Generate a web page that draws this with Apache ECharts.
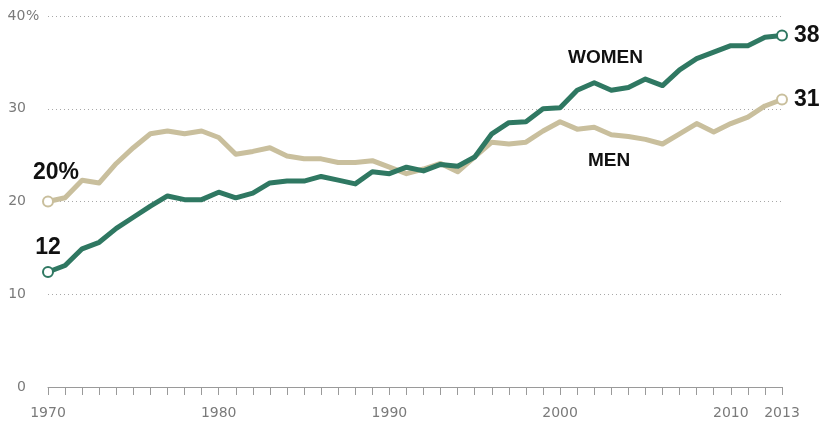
<!DOCTYPE html>
<html>
<head>
<meta charset="utf-8">
<script src="https://cdn.jsdelivr.net/npm/echarts@6/dist/echarts.min.js"></script>
<style>
  html, body { margin: 0; padding: 0; background: #fff; }
  #chart { width: 821px; height: 421px; }
</style>
</head>
<body>
<div id="chart"></div>
<script>
// years 1970..2013
const years = [1970,1971,1972,1973,1974,1975,1976,1977,1978,1979,
  1980,1981,1982,1983,1984,1985,1986,1987,1988,1989,
  1990,1991,1992,1993,1994,1995,1996,1997,1998,1999,
  2000,2001,2002,2003,2004,2005,2006,2007,2008,2009,
  2010,2011,2012,2013]
const women = [12.4,13.1,14.9,15.6,17.1,18.3,19.5,20.6,20.2,20.2,
  21.0,20.4,20.9,22.0,22.2,22.2,22.7,22.3,21.9,23.2,
  23.0,23.7,23.3,24.0,23.8,24.8,27.3,28.5,28.6,30.0,
  30.1,32.0,32.8,32.0,32.3,33.2,32.5,34.2,35.4,36.1,
  36.8,36.8,37.7,37.9]
const men = [20.0,20.4,22.3,22.0,24.1,25.8,27.3,27.6,27.3,27.6,
  26.9,25.1,25.4,25.8,24.9,24.6,24.6,24.2,24.2,24.4,
  23.7,23.0,23.5,24.1,23.2,24.8,26.4,26.2,26.4,27.6,
  28.6,27.8,28.0,27.2,27.0,26.7,26.2,27.3,28.4,27.5,
  28.4,29.1,30.3,31.0]
const yearLabels = [1970, 1980, 1990, 2000, 2010, 2013]
const yTicks = [0, 10, 20, 30, 40]

const green = '#2f7862'
const tan = '#c9bf9d'
const last = years.length - 1

function buildData (vals, firstText, firstOffset) {
  return vals.map(function (v, i) {
    let item = { value: [years[i], v] }
    if (i === 0) {
      item.label = { show: true, position: 'top', offset: firstOffset, formatter: firstText }
    } else if (i === last) {
      item.label = { show: true, position: 'right', distance: 6, formatter: String(Math.round(v)) }
    }
    return item
  })
}

const labelStyle = {
  fontFamily: 'Liberation Sans',
  fontWeight: 'bold',
  fontSize: 23,
  color: '#111'
}

function makeSeries (name, vals, color, firstText, firstOffset) {
  return {
    name: name,
    type: 'line',
    data: buildData(vals, firstText, firstOffset),
    showSymbol: true,
    showAllSymbol: true,
    symbol: 'emptyCircle',
    symbolSize: function (val, params) {
      return (params.dataIndex === 0 || params.dataIndex === last) ? 10 : 0
    },
    lineStyle: { color: color, width: 5, join: 'round' },
    itemStyle: { color: color, borderColor: color, borderWidth: 2 },
    label: labelStyle,
    silent: true,
    animation: false
  }
}

const axisGrey = '#7a7a7a'

let myChart = echarts.init(document.getElementById('chart'))
let option = {
  backgroundColor: '#fff',
  animation: false,
  grid: { left: 48, right: 39, top: 16, bottom: 34, containLabel: false },
  xAxis: {
    type: 'value',
    min: 1970,
    max: 2013,
    interval: 1,
    axisLine: { show: true, lineStyle: { color: '#9a9a9a', width: 1 } },
    axisTick: { show: true, length: 8, lineStyle: { color: '#9a9a9a' } },
    splitLine: { show: false },
    axisLabel: {
      margin: 19,
      fontFamily: 'DejaVu Sans',
      fontSize: 14,
      color: axisGrey,
      showMinLabel: true,
      showMaxLabel: true,
      formatter: function (v) {
        return yearLabels.indexOf(v) >= 0 ? String(v) : ''
      }
    }
  },
  yAxis: {
    type: 'value',
    min: yTicks[0],
    max: yTicks[yTicks.length - 1],
    interval: 10,
    axisLine: { show: false },
    axisTick: { show: false },
    splitLine: { show: true, lineStyle: { type: [1, 3], color: '#a8a8a8', width: 1 } },
    axisLabel: {
      margin: 41,
      align: 'left',
      formatter: function (v) {
        return '{n|' + v + '}' + (v === 40 ? '{p|%}' : '')
      },
      rich: {
        n: { fontFamily: 'DejaVu Sans', fontSize: 14, color: axisGrey, width: 19, align: 'right' },
        p: { fontFamily: 'DejaVu Sans', fontSize: 14, color: axisGrey }
      }
    }
  },
  graphic: [
    { type: 'text', left: 568, top: 48, style: { text: 'WOMEN', fontFamily: 'Liberation Sans', fontWeight: 'bold', fontSize: 19, fill: '#111' } },
    { type: 'text', left: 588, top: 151, style: { text: 'MEN', fontFamily: 'Liberation Sans', fontWeight: 'bold', fontSize: 19, fill: '#111' } }
  ],
  series: [
    makeSeries('Men', men, tan, '20%', [8, -6]),
    makeSeries('Women', women, green, '12', [0, -2])
  ]
}
myChart.setOption(option)
</script>
</body>
</html>
